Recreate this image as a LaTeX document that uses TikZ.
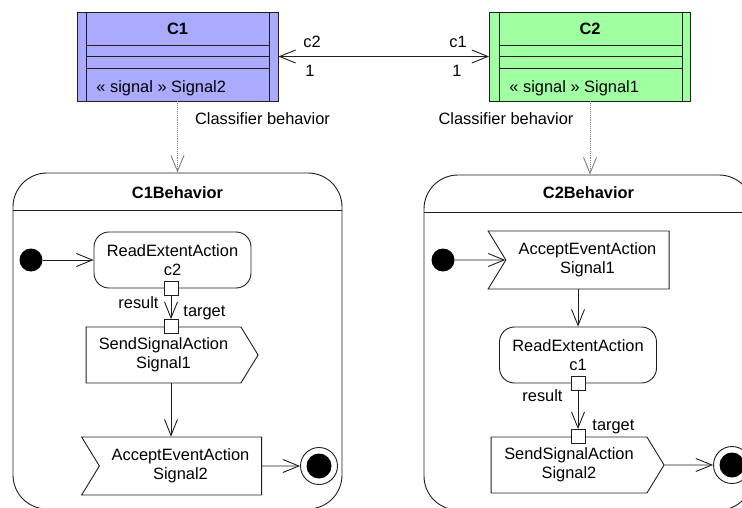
\documentclass[tikz,border=0pt]{standalone}
\usepackage{fontspec}
\setmainfont{Liberation Sans}
\usetikzlibrary{positioning,shapes.symbols,arrows.meta}

\definecolor{classblue}{RGB}{170,170,255}
\definecolor{classgreen}{RGB}{160,255,160}
\definecolor{linegray}{RGB}{30,30,30}

\begin{document}
\begin{tikzpicture}[x=1pt,y=-1pt,line width=0.9pt,
    every node/.style={font=\fontsize{16.4}{19}\selectfont,inner sep=0pt},
    title/.style={font=\fontsize{16.4}{19}\selectfont\bfseries},
    klass/.style={draw=linegray,minimum width=201pt,minimum height=89pt},
    frame/.style={draw=linegray,rounded corners=34pt,minimum width=329pt},
    action/.style={draw=linegray,rounded corners=15pt,minimum width=157pt,minimum height=56pt,align=center},
    sendsig/.style={draw=linegray,signal,signal to=east,signal pointer angle=117,minimum height=56pt,align=center},
    accept/.style={draw=linegray,signal,signal from=west,signal to=nowhere,signal pointer angle=117,minimum height=58pt,align=center},
    pin/.style={draw=linegray,fill=white,minimum size=14pt},
    initial/.style={circle,fill=black,minimum size=23pt},
    final/.style={circle,draw=linegray,fill=white,minimum size=37pt,
      path picture={\fill[black] (path picture bounding box.center) circle (12.5pt);}},
    flow/.style={draw=linegray,-{Straight Barb[length=16pt,width=13pt]}},
    realize/.style={draw=gray,densely dotted,-{Straight Barb[length=16pt,width=13pt]}},
    assoc/.style={draw=linegray,{Straight Barb[length=16pt,width=13pt]}-{Straight Barb[length=16pt,width=13pt]}}
    ]

    \useasboundingbox (0,0) rectangle (742,508);
    \clip (0,0) rectangle (742,508);

    % classes
    \node (c1) [klass,fill=classblue] at (177.5,56.5) {};
    \node (c2) [klass,fill=classgreen] at (590,56.5) {};
    \foreach \k in {c1,c2} {
      \draw[linegray] ([xshift=10pt]\k.north west) -- ([xshift=10pt]\k.south west);
      \draw[linegray] ([xshift=-9pt]\k.north east) -- ([xshift=-9pt]\k.south east);
      \foreach \d in {34,45,57}
        \draw[linegray] ([xshift=10pt,yshift=-\d pt]\k.north west) -- ([xshift=-9pt,yshift=-\d pt]\k.north east);
    }
    \node (c1name) [title] at (177.5,29) {C1};
    \node (c2name) [title] at (590,29) {C2};
    \node (c1sig) [anchor=west] at (96,88) {« signal » Signal2};
    \node (c2sig) [anchor=west] at (509,88) {« signal » Signal1};

    \draw[assoc] (c1) -- (c2);
    \node (c1role) at (312,42) {c2};
    \node (c1mult) at (310,71) {1};
    \node (c2role) at (458,42) {c1};
    \node (c2mult) at (457,71) {1};

    % behaviors
    \node (b1) [frame,minimum height=336pt] at (177.5,341) {};
    \node (b2) [frame,minimum height=335pt] at (588.5,342.5) {};
    \foreach \b in {b1,b2}
      \draw[linegray] ([yshift=-38pt]\b.north west) -- ([yshift=-38pt]\b.north east);
    \node (b1name) [title] at (177.5,193) {C1Behavior};
    \node (b2name) [title] at (588.5,193) {C2Behavior};

    \draw[realize] (c1) -- (c1 |- b1.north);
    \draw[realize] (c2) -- (c2 |- b2.north);
    \node (cb1) at (262.5,119) {Classifier behavior};
    \node (cb2) at (506,119) {Classifier behavior};

    % C1Behavior
    \node (init1) [initial] at (31,260) {};
    \node (rd1) [action] at (172.5,260) {ReadExtentAction\\c2};
    \node (ss1) [sendsig,minimum width=172pt] at (163.5,355) {SendSignalAction\\Signal1};
    \node (ae2) [accept,minimum width=180pt] at (180.5,466) {AcceptEventAction\\Signal2};
    \node (fin1) [final] at (319,466) {};
    \node (o1) [pin] at (171,288) {};
    \node (t1) [pin] at (o1 |- ss1.north) {};
    \node (o1lab) [anchor=east] at (159,303) {result};
    \node (t1lab) [anchor=west] at (183,313) {target};

    \draw[flow] (init1) -- (rd1);
    \draw[flow] (o1) -- (t1);
    \draw[flow] (o1 |- ss1.south) -- (o1 |- ae2.north);
    \draw[flow] (ae2) -- (fin1);

    % C2Behavior
    \node (init2) [initial] at (443,260) {};
    \node (ae1) [accept,minimum width=181pt] at (587.5,260) {AcceptEventAction\\Signal1};
    \node (rd2) [action] at (578,355) {ReadExtentAction\\c1};
    \node (ss2) [sendsig,minimum width=173pt] at (569,465) {SendSignalAction\\Signal2};
    \node (fin2) [final] at (732,465) {};
    \node (o2) [pin] at (rd2.south) {};
    \node (t2) [pin] at (o2 |- ss2.north) {};
    \node (o2lab) [anchor=east] at (563,396) {result};
    \node (t2lab) [anchor=west] at (592,427) {target};

    \draw[flow] (init2) -- (ae1);
    \draw[flow] (rd2.north |- ae1.south) -- (rd2.north);
    \draw[flow] (o2) -- (t2);
    \draw[flow] (ss2) -- (fin2);

  \end{tikzpicture}
\end{document}
